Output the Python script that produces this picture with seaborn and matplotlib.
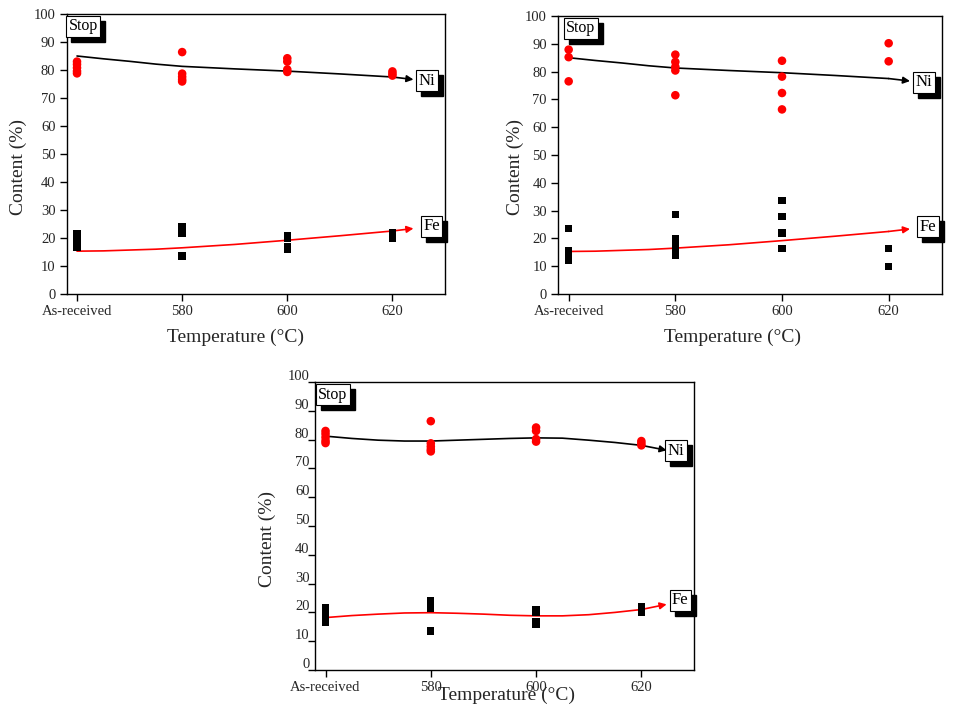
import numpy as np
import pandas as pd
import matplotlib
matplotlib.use("Agg")
import matplotlib.pyplot as plt
import matplotlib.transforms as mtransforms
import seaborn as sns

# kategorier på x-axeln
temps = ["As-received", "580", "600", "620"]

# panel 1 och 3 (samma mätpunkter)
ni_a = [[83.0, 82.0, 80.8, 79.6, 78.8],
        [86.4, 78.7, 77.6, 76.6, 75.9],
        [84.2, 83.0, 80.2, 79.3],
        [79.5, 78.7, 78.0]]
fe_a = [[21.5, 20.3, 19.0, 17.8, 16.6],
        [24.2, 23.0, 21.5, 13.6],
        [21.0, 20.0, 16.8, 15.8],
        [22.0, 21.0, 20.0]]

# panel 2
ni_b = [[87.9, 85.2, 76.5],
        [86.1, 83.5, 81.7, 80.4, 71.5],
        [83.9, 78.2, 72.3, 66.4],
        [90.2, 83.7]]
fe_b = [[23.5, 15.5, 14.4, 13.3, 12.2],
        [28.6, 19.8, 18.5, 17.0, 15.5, 14.0],
        [33.7, 27.8, 21.9, 16.3],
        [16.3, 9.8]]

# trendkurvor (avlästa punkter), panel 1 och 2
trend_x = [0, 0.25, 0.5, 0.75, 1, 1.5, 2, 2.5, 3, 3.2]
trend_ni = [85.0, 84.0, 83.1, 82.1, 81.3, 80.4, 79.6, 78.6, 77.5, 76.6]
trend_fe = [15.3, 15.4, 15.7, 16.0, 16.5, 17.7, 19.2, 20.8, 22.5, 23.4]

# panel 3, spline genom medelvärden
spl_x = [0, 0.25, 0.5, 0.75, 1, 1.25, 1.5, 1.75, 2, 2.25, 2.5, 2.75, 3, 3.24]
spl_ni = [81.2, 80.4, 79.8, 79.5, 79.5, 79.8, 80.1, 80.4, 80.6, 80.5, 79.8, 79.0, 78.0, 76.3]
spl_fe = [18.2, 18.9, 19.4, 19.8, 19.9, 19.7, 19.4, 19.0, 18.8, 18.8, 19.2, 20.0, 21.0, 22.8]


def to_frame(groups):
    rows = [(i, v) for i, vals in enumerate(groups) for v in vals]
    return pd.DataFrame(rows, columns=["x", "y"])


def boxed_text(ax, x, y, s, transform, fs=12):
    # vit ruta med svart skugga
    shadow = mtransforms.offset_copy(transform, fig=ax.figure, x=5, y=-5, units="dots")
    ax.text(x, y, s, transform=shadow, ha="center", va="center", fontsize=fs,
            color="black", zorder=5,
            bbox=dict(boxstyle="square,pad=0.15", facecolor="black", edgecolor="black"))
    ax.text(x, y, s, transform=transform, ha="center", va="center", fontsize=fs,
            color="black", zorder=6,
            bbox=dict(boxstyle="square,pad=0.15", facecolor="white", edgecolor="black", lw=0.8))


def draw_curve(ax, xs, ys, color):
    sns.lineplot(x=xs[:-1], y=ys[:-1], sort=False, color=color, lw=1.2, ax=ax, zorder=3)
    ax.annotate("", xy=(xs[-1], ys[-1]), xytext=(xs[-2], ys[-2]),
                arrowprops=dict(arrowstyle="-|>", color=color, lw=1.2,
                                mutation_scale=10, shrinkA=0, shrinkB=0), zorder=3)


def panel(ax, ni, fe, cx, cni, cfe, stop_x, shifted=False):
    sns.scatterplot(data=to_frame(ni), x="x", y="y", color="red", marker="o",
                    s=38, edgecolor="none", ax=ax, zorder=4)
    sns.scatterplot(data=to_frame(fe), x="x", y="y", color="black", marker="s",
                    s=28, edgecolor="none", ax=ax, zorder=4)
    draw_curve(ax, cx, cni, "black")
    draw_curve(ax, cx, cfe, "red")

    ax.set_xlim(-0.1, 3.5)
    ax.set_ylim(0, 100)
    ax.set_xticks(range(len(temps)))
    ax.set_xticklabels(temps)
    ax.set_yticks(np.arange(0, 101, 10))
    ax.set_xlabel("")
    ax.set_ylabel("")
    ax.tick_params(direction="out", length=5, width=1, labelsize=10.5, pad=3,
                   bottom=True, left=True, color="black")
    for sp in ax.spines.values():
        sp.set_linewidth(1)
        sp.set_color("black")
    if shifted:
        # etiketterna sitter ovanför strecken i tredje panelen
        ax.tick_params(axis="y", pad=-1)
        up = mtransforms.ScaledTranslation(0, 7 / 100, ax.figure.dpi_scale_trans)
        for lab in ax.yaxis.get_majorticklabels():
            lab.set_transform(lab.get_transform() + up)

    boxed_text(ax, stop_x, 0.956, "Stop", ax.transAxes, fs=11.5)
    boxed_text(ax, 3.33, 76.2, "Ni", ax.transData)
    boxed_text(ax, 3.37, 24.2, "Fe", ax.transData)


sns.set_style("white")
plt.rcParams["font.family"] = ["Liberation Serif", "DejaVu Serif"]

W, H = 963, 722
fig = plt.figure(figsize=(W / 100, H / 100), dpi=100)

ax1 = fig.add_axes([66.5 / W, 1 - 294 / H, 378.5 / W, 280 / H])
ax2 = fig.add_axes([558 / W, 1 - 294 / H, 384 / W, 278 / H])
ax3 = fig.add_axes([315 / W, 1 - 670 / H, 379 / W, 288 / H])

panel(ax1, ni_a, fe_a, trend_x, trend_ni, trend_fe, 0.044)
panel(ax2, ni_b, fe_b, trend_x, trend_ni, trend_fe, 0.059)
panel(ax3, ni_a, fe_a, spl_x, spl_ni, spl_fe, 0.047, shifted=True)

# axeltitlar
for (x, y) in [(18, 167), (515, 167), (267, 539)]:
    fig.text(x / W, 1 - y / H, "Content (%)", rotation=90, ha="center", va="center", fontsize=14)
for (x, y) in [(235, 337), (732, 337), (507, 695)]:
    fig.text(x / W, 1 - y / H, "Temperature (\u00b0C)", ha="center", va="center", fontsize=14)

fig.savefig("out.png", dpi=100, facecolor="white")
